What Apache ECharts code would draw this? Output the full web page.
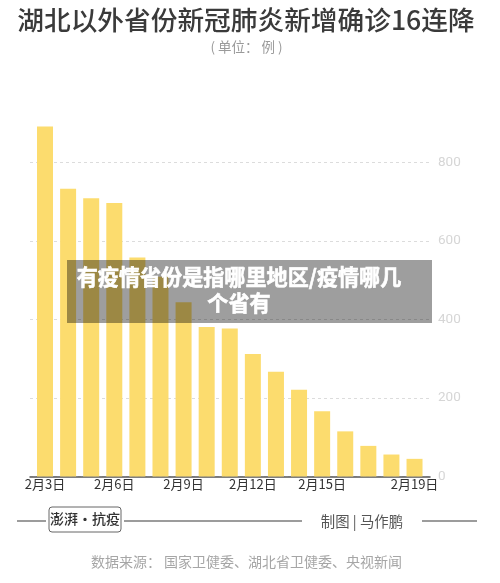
<!DOCTYPE html>
<html>
<head>
<meta charset="utf-8">
<style>
  html, body { margin: 0; padding: 0; background: #fff; }
  #main { width: 500px; height: 583px; }
</style>
<script src="https://cdn.jsdelivr.net/npm/echarts@6/dist/echarts.min.js"></script>
</head>
<body>
<div id="main"></div>
<script>
var days = ['2月3日', '2月4日', '2月5日', '2月6日', '2月7日', '2月8日', '2月9日', '2月10日', '2月11日',
    '2月12日', '2月13日', '2月14日', '2月15日', '2月16日', '2月17日', '2月18日', '2月19日'];
var newCases = [892, 733, 709, 697, 558, 509, 444, 381, 377, 312, 267, 221, 166, 115, 78, 56, 45];
var shownDays = [0, 3, 6, 9, 12, 16];

var font = '"Noto Sans CJK SC", sans-serif';
var chart = echarts.init(document.getElementById('main'));

function line(x1, x2) {
    return {
        type: 'line',
        shape: { x1: x1, y1: 521, x2: x2, y2: 521 },
        style: { stroke: '#9c9c9c', lineWidth: 2 }
    };
}

// 遮罩上的白色粗体文字
function bannerText(text, y) {
    return {
        type: 'text', z: 101, x: 239, y: y,
        style: {
            text: text, fill: '#fff', stroke: '#fff', lineWidth: 0.6,
            font: '700 21.1px "Noto Sans CJK SC"', textAlign: 'center', textVerticalAlign: 'middle'
        }
    };
}

var option = {
    animation: false,
    backgroundColor: '#fff',
    grid: { left: 30, right: 70, top: 123.25, bottom: 106.5 },
    xAxis: {
        type: 'value',
        min: -0.65,
        max: 16.67,
        splitLine: { show: false },
        axisLine: { show: true, onZero: false, lineStyle: { color: '#555', width: 1.5 } },
        axisTick: { show: false },
        axisLabel: {
            customValues: shownDays,
            formatter: function (v) { return days[v]; },
            color: '#333',
            fontFamily: font,
            fontSize: 13,
            margin: 1
        }
    },
    yAxis: {
        type: 'value',
        position: 'right',
        min: 0,
        max: 900,
        interval: 200,
        axisLine: { show: false },
        axisTick: { show: false },
        axisLabel: {
            showMaxLabel: false,
            color: '#d6d6d6',
            fontFamily: 'Roboto, sans-serif',
            fontSize: 13.5,
            margin: 8
        },
        splitLine: {
            showMaxLine: false,
            lineStyle: { color: '#dcdcdc', type: [3, 3], width: 1 }
        }
    },
    series: [{
        type: 'bar',
        barWidth: 16,
        itemStyle: { color: '#fcdc6e' },
        data: newCases.map(function (v, i) { return [i, v]; })
    }],
    graphic: [
        {
            type: 'text', x: 246, y: 19.5,
            style: { text: '湖北以外省份新冠肺炎新增确诊16连降', fill: '#3a3a3a', font: '500 26.7px "Noto Sans CJK SC"', textAlign: 'center', textVerticalAlign: 'middle' }
        },
        {
            type: 'text', x: 246.5, y: 46.5,
            style: { text: '( 单位： 例 )', fill: '#9a9a9a', font: '13.5px "Noto Sans CJK SC"', textAlign: 'center', textVerticalAlign: 'middle' }
        },
        line(17, 46), line(124, 302), line(422, 477),
        {
            type: 'rect',
            shape: { x: 49, y: 507, width: 72, height: 25, r: 3 },
            style: { fill: '#fff', stroke: '#666', lineWidth: 1 }
        },
        {
            type: 'text', x: 85, y: 518.5,
            style: { text: '澎湃·抗疫', fill: '#333', font: '500 14px "Noto Sans CJK SC"', textAlign: 'center', textVerticalAlign: 'middle' }
        },
        {
            type: 'text', x: 362, y: 522,
            style: { text: '制图 | 马作鹏', fill: '#555', font: '14.4px "Noto Sans CJK SC"', textAlign: 'center', textVerticalAlign: 'middle' }
        },
        {
            type: 'text', x: 246.5, y: 562,
            style: { text: '数据来源： 国家卫健委、湖北省卫健委、央视新闻', fill: '#a6a6a6', font: '14px "Noto Sans CJK SC"', textAlign: 'center', textVerticalAlign: 'middle' }
        },
        {
            type: 'rect', z: 100,
            shape: { x: 67, y: 260, width: 365, height: 63 },
            style: { fill: 'rgba(0,0,0,0.38)' }
        },
        bannerText('有疫情省份是指哪里地区/疫情哪几', 277),
        bannerText('个省有', 303)
    ]
};
chart.setOption(option);
</script>
</body>
</html>
